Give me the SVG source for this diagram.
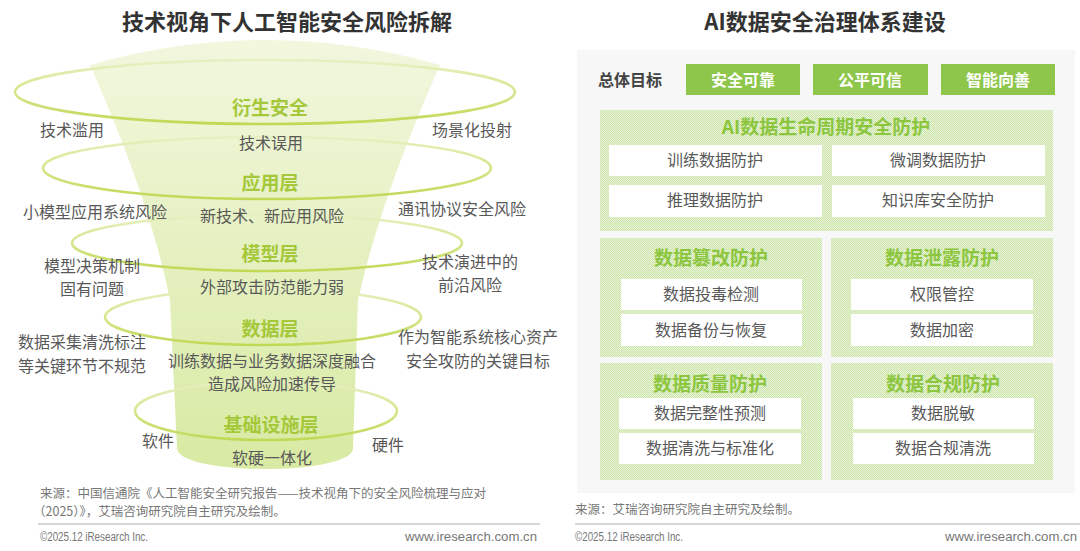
<svg xmlns="http://www.w3.org/2000/svg" width="1080" height="551" viewBox="0 0 1080 551">
<defs>
<style>
text{font-family:"Noto Sans CJK SC","Noto Sans",sans-serif;}
.title{font-size:22px;font-weight:bold;fill:#333;text-anchor:middle;}
.layer{font-size:19px;font-weight:bold;fill:#a5c83a;text-anchor:middle;}
.g{font-size:16px;fill:#595959;text-anchor:middle;}
.goal{font-size:16px;font-weight:bold;fill:#fff;text-anchor:middle;}
.sec{font-size:19px;font-weight:bold;fill:#8cc63f;text-anchor:middle;}
.item{font-size:16px;fill:#595959;text-anchor:middle;}
.src{font-size:12.5px;fill:#777;}
.foot{font-family:"Liberation Sans",Arial,sans-serif;font-size:13px;fill:#777;}
.ring{fill:none;stroke:url(#ringG);stroke-width:2.6;}
.gbox{fill:#8dc64a;}
.wbox{fill:#fff;}
.pbox{fill:url(#dots);}
</style>
<linearGradient id="funG" x1="0" y1="0" x2="0" y2="1">
<stop offset="0" stop-color="#f2f7de"/>
<stop offset="1" stop-color="#d8eaa3"/>
</linearGradient>
<linearGradient id="ringG" x1="0" y1="0" x2="0" y2="1">
<stop offset="0" stop-color="#e6f0c2"/>
<stop offset="0.5" stop-color="#d5e78e"/>
<stop offset="1" stop-color="#bfd955"/>
</linearGradient>
<pattern id="dots" width="2" height="2" patternUnits="userSpaceOnUse">
<rect width="2" height="2" fill="#e8f3da"/>
<rect width="1" height="1" fill="#cde4a8"/>
<rect x="1" y="1" width="1" height="1" fill="#cde4a8"/>
</pattern>
</defs>
<rect width="1080" height="551" fill="#fff"/>

<!-- Left: funnel -->
<g id="left-title"><text class="title" x="287" y="30">技术视角下人工智能安全风险拆解</text></g>
<g id="funnel">
<path d="M90,65 Q265,15 440,65 Q380,200 358,300 L353,448 C353,476 177,476 177,448 L170,300 Q150,200 90,65 Z" fill="url(#funG)"/>
</g>
<g id="rings">
<ellipse class="ring" cx="265" cy="92" rx="250" ry="32"/>
<ellipse class="ring" cx="267" cy="168" rx="224" ry="31"/>
<ellipse class="ring" cx="267" cy="243" rx="195" ry="28"/>
<ellipse class="ring" cx="263" cy="317" rx="158" ry="28"/>
<ellipse class="ring" cx="266" cy="411" rx="131" ry="29"/>
</g>
<g id="layer-derived">
<text class="layer" x="270" y="115">衍生安全</text>
<text class="g" x="72" y="136">技术滥用</text>
<text class="g" x="472" y="136">场景化投射</text>
<text class="g" x="271" y="149">技术误用</text>
</g>
<g id="layer-app">
<text class="layer" x="270" y="190">应用层</text>
<text class="g" x="95" y="218">小模型应用系统风险</text>
<text class="g" x="272" y="222">新技术、新应用风险</text>
<text class="g" x="462" y="215">通讯协议安全风险</text>
</g>
<g id="layer-model">
<text class="layer" x="270" y="261">模型层</text>
<text class="g" x="92" y="272">模型决策机制</text>
<text class="g" x="92" y="295">固有问题</text>
<text class="g" x="272" y="293">外部攻击防范能力弱</text>
<text class="g" x="470" y="268">技术演进中的</text>
<text class="g" x="470" y="291">前沿风险</text>
</g>
<g id="layer-data">
<text class="layer" x="270" y="336">数据层</text>
<text class="g" x="82" y="348">数据采集清洗标注</text>
<text class="g" x="82" y="372">等关键环节不规范</text>
<text class="g" x="272" y="367">训练数据与业务数据深度融合</text>
<text class="g" x="272" y="390">造成风险加速传导</text>
<text class="g" x="478" y="343">作为智能系统核心资产</text>
<text class="g" x="478" y="367">安全攻防的关键目标</text>
</g>
<g id="layer-infra">
<text class="layer" x="271" y="432">基础设施层</text>
<text class="g" x="158" y="447">软件</text>
<text class="g" x="388" y="451">硬件</text>
<text class="g" x="272" y="464">软硬一体化</text>
</g>
<g id="left-footer">
<text class="src" x="40" y="498">来源：中国信通院《人工智能安全研究报告——技术视角下的安全风险梳理与应对</text>
<text class="src" x="33" y="516">（2025）》，艾瑞咨询研究院自主研究及绘制。</text>
<line x1="38" y1="524" x2="540" y2="524" stroke="#c8c8c8" stroke-width="1.5"/>
<text class="foot" x="40" y="541" textLength="108" lengthAdjust="spacingAndGlyphs">©2025.12 iResearch Inc.</text>
<text class="foot" x="537" y="541" text-anchor="end" textLength="132" lengthAdjust="spacingAndGlyphs">www.iresearch.com.cn</text>
</g>

<!-- Right panel -->
<g id="right-title"><text class="title" x="825" y="30">AI数据安全治理体系建设</text></g>
<rect x="577" y="50" width="498" height="443" fill="#f7f7f7"/>
<g id="goals">
<text x="630" y="86" style="font-size:16px;font-weight:bold;fill:#444;text-anchor:middle">总体目标</text>
<rect class="gbox" x="686" y="64" width="114" height="31"/>
<text class="goal" x="743" y="86">安全可靠</text>
<rect class="gbox" x="813" y="64" width="115" height="31"/>
<text class="goal" x="870" y="86">公平可信</text>
<rect class="gbox" x="941" y="64" width="114" height="31"/>
<text class="goal" x="998" y="86">智能向善</text>
</g>
<g id="lifecycle">
<rect class="pbox" x="600" y="110" width="453" height="121"/>
<text class="sec" x="826" y="134">AI数据生命周期安全防护</text>
<rect class="wbox" x="609" y="145" width="213" height="31"/>
<text class="item" x="715" y="166">训练数据防护</text>
<rect class="wbox" x="832" y="145" width="213" height="31"/>
<text class="item" x="938" y="166">微调数据防护</text>
<rect class="wbox" x="609" y="185" width="213" height="32"/>
<text class="item" x="715" y="206">推理数据防护</text>
<rect class="wbox" x="832" y="185" width="213" height="32"/>
<text class="item" x="938" y="206">知识库安全防护</text>
</g>
<g id="tamper">
<rect class="pbox" x="600" y="238" width="222" height="119"/>
<text class="sec" x="711" y="265">数据篡改防护</text>
<rect class="wbox" x="621" y="279" width="181" height="31"/>
<text class="item" x="711" y="300">数据投毒检测</text>
<rect class="wbox" x="621" y="314" width="181" height="32"/>
<text class="item" x="711" y="336">数据备份与恢复</text>
</g>
<g id="leak">
<rect class="pbox" x="831" y="238" width="222" height="119"/>
<text class="sec" x="942" y="265">数据泄露防护</text>
<rect class="wbox" x="851" y="279" width="182" height="31"/>
<text class="item" x="942" y="300">权限管控</text>
<rect class="wbox" x="851" y="314" width="182" height="32"/>
<text class="item" x="942" y="336">数据加密</text>
</g>
<g id="quality">
<rect class="pbox" x="600" y="363" width="222" height="117"/>
<text class="sec" x="710" y="391">数据质量防护</text>
<rect class="wbox" x="619" y="398" width="182" height="31"/>
<text class="item" x="710" y="419">数据完整性预测</text>
<rect class="wbox" x="619" y="433" width="182" height="31"/>
<text class="item" x="710" y="454">数据清洗与标准化</text>
</g>
<g id="compliance">
<rect class="pbox" x="831" y="363" width="222" height="117"/>
<text class="sec" x="943" y="391">数据合规防护</text>
<rect class="wbox" x="853" y="398" width="181" height="31"/>
<text class="item" x="943" y="419">数据脱敏</text>
<rect class="wbox" x="853" y="433" width="181" height="31"/>
<text class="item" x="943" y="454">数据合规清洗</text>
</g>
<g id="right-footer">
<text class="src" x="575" y="514">来源：艾瑞咨询研究院自主研究及绘制。</text>
<line x1="575" y1="524" x2="1080" y2="524" stroke="#c8c8c8" stroke-width="1.5"/>
<text class="foot" x="575" y="541" textLength="108" lengthAdjust="spacingAndGlyphs">©2025.12 iResearch Inc.</text>
<text class="foot" x="1077" y="541" text-anchor="end" textLength="132" lengthAdjust="spacingAndGlyphs">www.iresearch.com.cn</text>
</g>
</svg>
